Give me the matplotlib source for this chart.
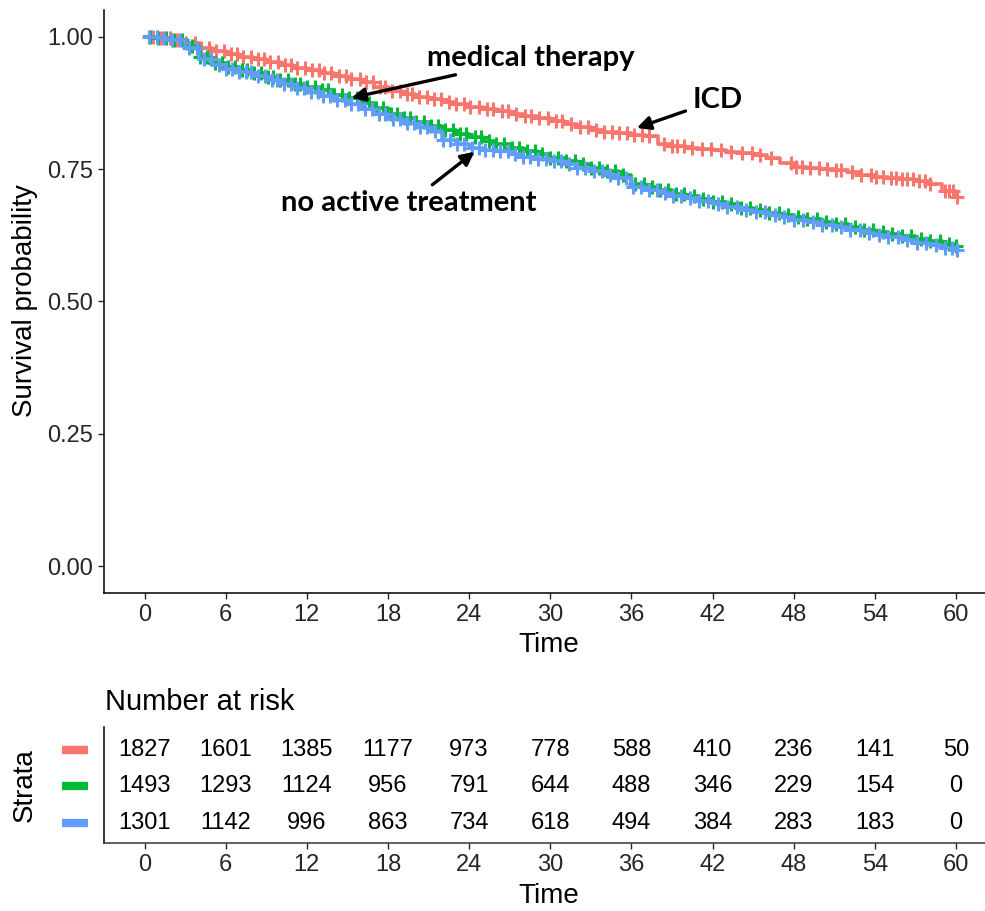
import numpy as np
import matplotlib
matplotlib.use("Agg")
import matplotlib.pyplot as plt
import matplotlib.transforms as mtransforms

plt.rcParams['font.family'] = ['Liberation Sans', 'DejaVu Sans']

# --- Data ---
strata = ['ICD', 'medical therapy', 'no active treatment']
colors = ['#F8766D', '#00BA38', '#619CFF']

months = list(range(61))

surv_icd = [1.000, 0.998, 0.995, 0.988, 0.979, 0.973, 0.968, 0.963, 0.958, 0.953,
            0.947, 0.942, 0.937, 0.932, 0.926, 0.921, 0.914, 0.905, 0.898, 0.893,
            0.887, 0.882, 0.877, 0.873, 0.868, 0.864, 0.860, 0.855, 0.851, 0.846,
            0.842, 0.836, 0.830, 0.825, 0.821, 0.818, 0.815, 0.812, 0.798, 0.794,
            0.791, 0.788, 0.786, 0.783, 0.780, 0.776, 0.771, 0.762, 0.755, 0.753,
            0.751, 0.749, 0.745, 0.740, 0.736, 0.733, 0.731, 0.728, 0.722, 0.708,
            0.697]
surv_med = [1.000, 0.998, 0.994, 0.982, 0.962, 0.950, 0.943, 0.937, 0.931, 0.925,
            0.918, 0.911, 0.905, 0.899, 0.891, 0.884, 0.875, 0.865, 0.854, 0.847,
            0.839, 0.832, 0.825, 0.817, 0.811, 0.804, 0.797, 0.790, 0.784, 0.778,
            0.772, 0.766, 0.759, 0.753, 0.747, 0.740, 0.722, 0.717, 0.710, 0.704,
            0.699, 0.694, 0.689, 0.684, 0.677, 0.672, 0.668, 0.664, 0.659, 0.655,
            0.651, 0.646, 0.641, 0.636, 0.631, 0.627, 0.623, 0.619, 0.614, 0.609,
            0.604]
surv_none = [1.000, 0.998, 0.995, 0.980, 0.958, 0.947, 0.940, 0.933, 0.926, 0.919,
             0.912, 0.904, 0.896, 0.889, 0.880, 0.873, 0.864, 0.855, 0.845, 0.838,
             0.830, 0.822, 0.805, 0.798, 0.791, 0.787, 0.784, 0.779, 0.774, 0.769,
             0.765, 0.759, 0.752, 0.746, 0.740, 0.733, 0.716, 0.711, 0.705, 0.700,
             0.695, 0.690, 0.685, 0.679, 0.673, 0.669, 0.664, 0.659, 0.654, 0.650,
             0.645, 0.640, 0.635, 0.630, 0.625, 0.621, 0.616, 0.611, 0.606, 0.601,
             0.597]

# censoring times (months)
cens_icd = [0.6, 1.2, 1.9, 2.4, 3.1, 3.7, 4.2, 4.8, 5.3, 5.9, 6.4, 6.8, 7.3, 7.9,
            8.4, 8.8, 9.3, 9.9, 10.4, 10.8, 11.3, 11.9, 12.4, 12.9, 13.3, 13.8,
            14.4, 14.9, 15.3, 15.9, 16.4, 16.9, 17.4, 17.8, 18.3, 18.9, 19.4, 19.8,
            20.3, 20.9, 21.4, 21.9, 22.5, 23.0, 23.6, 24.1, 24.7, 25.3, 25.8, 26.4,
            26.9, 27.5, 28.1, 28.6, 29.2, 29.8, 30.4, 30.9, 31.5, 32.2, 32.8, 33.4,
            34.0, 34.6, 35.1, 35.7, 36.2, 36.8, 37.3, 38.4, 39.0, 39.4, 39.9, 40.5,
            41.2, 41.9, 42.6, 43.4, 44.2, 44.9, 45.5, 46.3, 47.8, 48.2, 48.6, 49.2,
            49.9, 50.5, 51.1, 51.5, 52.3, 53.0, 53.7, 54.1, 54.6, 55.2, 55.6, 56.0,
            56.4, 56.8, 57.3, 57.7, 58.1, 59.2, 59.5, 59.8, 60.1]
cens_med = [0.4, 1.0, 1.6, 2.2, 2.8, 3.5, 4.1, 4.6, 5.2, 5.7, 6.2, 6.7, 7.2, 7.6,
            8.1, 8.6, 9.1, 9.5, 10.0, 10.6, 11.1, 11.5, 12.0, 12.6, 13.1, 13.6,
            14.0, 14.6, 15.1, 15.7, 16.2, 16.6, 17.1, 17.6, 18.2, 18.7, 19.2, 19.6,
            20.1, 20.7, 21.2, 21.7, 22.2, 22.8, 23.3, 23.8, 24.4, 24.9, 25.5, 26.0,
            26.6, 27.2, 27.7, 28.3, 28.9, 29.4, 30.0, 30.6, 31.2, 31.8, 32.4, 33.0,
            33.6, 34.2, 34.8, 35.4, 36.3, 36.9, 37.5, 38.1, 38.7, 39.3, 39.9, 40.6,
            41.3, 42.0, 42.7, 43.4, 44.1, 44.8, 45.5, 46.2, 46.9, 47.6, 48.3, 49.0,
            49.7, 50.4, 51.1, 51.8, 52.5, 53.2, 53.9, 54.6, 55.3, 56.0, 56.7, 57.4,
            58.1, 58.8, 59.5, 60.0]
cens_none = [0.3, 0.9, 1.4, 2.0, 2.6, 3.3, 3.9, 4.4, 4.9, 5.5, 6.0, 6.5, 7.0, 7.5,
             7.9, 8.4, 8.9, 9.4, 9.8, 10.3, 10.8, 11.3, 11.8, 12.3, 12.8, 13.2,
             13.7, 14.2, 14.8, 15.3, 15.8, 16.3, 16.8, 17.3, 17.8, 18.4, 18.9, 19.4,
             19.9, 20.4, 20.9, 21.5, 22.1, 22.6, 23.1, 23.6, 24.2, 24.7, 25.2, 25.8,
             26.3, 26.9, 27.4, 28.0, 28.5, 29.1, 29.7, 30.3, 30.8, 31.4, 32.0, 32.6,
             33.2, 33.8, 34.4, 35.0, 35.6, 36.1, 36.7, 37.3, 37.9, 38.5, 39.1, 39.7,
             40.3, 41.0, 41.7, 42.4, 43.1, 43.8, 44.5, 45.2, 45.9, 46.6, 47.3, 48.0,
             48.7, 49.4, 50.1, 50.8, 51.5, 52.2, 52.9, 53.6, 54.3, 55.0, 55.7, 56.4,
             57.1, 57.8, 58.5, 59.2, 59.7, 60.1]

risk_times = [0, 6, 12, 18, 24, 30, 36, 42, 48, 54, 60]
risk_icd = [1827, 1601, 1385, 1177, 973, 778, 588, 410, 236, 141, 50]
risk_med = [1493, 1293, 1124, 956, 791, 644, 488, 346, 229, 154, 0]
risk_none = [1301, 1142, 996, 863, 734, 618, 494, 384, 283, 183, 0]

# curve labels: (text, text position, arrow tip)
labels = [
    ('medical therapy', (20.9, 0.960), (15.3, 0.885)),
    ('ICD', (40.5, 0.881), (36.4, 0.828)),
    ('no active treatment', (10.1, 0.686), (24.4, 0.783)),
]

# --- Figure layout (pixel based) ---
W, H = 985, 911
fig = plt.figure(figsize=(W / 100, H / 100), dpi=100)
ax_l, ax_r = 104, 996.5
ax = fig.add_axes([ax_l / W, 1 - 592.5 / H, (ax_r - ax_l) / W, (592.5 - 10.5) / H])
tab = fig.add_axes([ax_l / W, 1 - 843 / H, (ax_r - ax_l) / W, (843 - 727) / H])

tick_col = '#262626'

# --- Survival curves ---
series = [(surv_icd, cens_icd), (surv_med, cens_med), (surv_none, cens_none)]
for (surv, cens), col in zip(series, colors):
    ax.step(months, surv, where='post', color=col, lw=2.6, zorder=3)
    idx = np.searchsorted(months, cens, side='right') - 1
    ax.plot(cens, np.array(surv)[idx], ls='none', marker='+', ms=10, mew=2.2,
            color=col, zorder=3)

ax.set_xlim(-3, 63)
ax.set_ylim(-0.05, 1.05)
ax.set_xticks(risk_times)
ax.set_yticks([0, 0.25, 0.5, 0.75, 1.0])
ax.set_yticklabels(['0.00', '0.25', '0.50', '0.75', '1.00'])
for s in ['top', 'right']:
    ax.spines[s].set_visible(False)
for s in ['left', 'bottom']:
    ax.spines[s].set_linewidth(1.1)
    ax.spines[s].set_color('black')
ax.tick_params(labelsize=17, length=4, width=1, colors=tick_col, pad=4)

for text, xy_text, xy_tip in labels:
    ax.annotate(text, xy=xy_tip, xytext=xy_text, fontsize=21, fontweight='bold',
                family=['Lato', 'DejaVu Sans'], va='center', ha='left',
                arrowprops=dict(arrowstyle='-|>', color='black', lw=2.4,
                                mutation_scale=20, shrinkA=3, shrinkB=0))

fig.text(549 / W, 1 - 645 / H, 'Time', fontsize=20, ha='center', va='center')
fig.text(25 / W, 1 - 301 / H, 'Survival probability', fontsize=20, rotation=90,
         ha='center', va='center')

# --- Risk table ---
risk_rows = [risk_icd, risk_med, risk_none]
row_y = [3, 2, 1]
for row, y in zip(risk_rows, row_y):
    for t, n in zip(risk_times, row):
        tab.text(t, y, str(n), fontsize=17, ha='center', va='center', color='black')

tab.set_xlim(-3, 63)
tab.set_ylim(0.45, 3.63)
tab.set_xticks(risk_times)
tab.set_yticks([])
for s in ['top', 'right']:
    tab.spines[s].set_visible(False)
for s in ['left', 'bottom']:
    tab.spines[s].set_linewidth(1.1)
tab.spines['bottom'].set_color('#333333')
tab.spines['left'].set_color('black')
tab.tick_params(labelsize=17, length=4, width=1, colors=tick_col, pad=4)

# colour keys for the strata rows
trans = mtransforms.blended_transform_factory(tab.transAxes, tab.transData)
for y, col in zip(row_y, colors):
    tab.plot([-0.047, -0.018], [y, y], color=col, lw=6, solid_capstyle='butt',
             transform=trans, clip_on=False)

fig.text(105 / W, 1 - 702 / H, 'Number at risk', fontsize=21, ha='left', va='center')
fig.text(25 / W, 1 - 785 / H, 'Strata', fontsize=20, rotation=90,
         ha='center', va='center')
fig.text(549 / W, 1 - 896 / H, 'Time', fontsize=20, ha='center', va='center')

fig.savefig('out.png', dpi=100)
